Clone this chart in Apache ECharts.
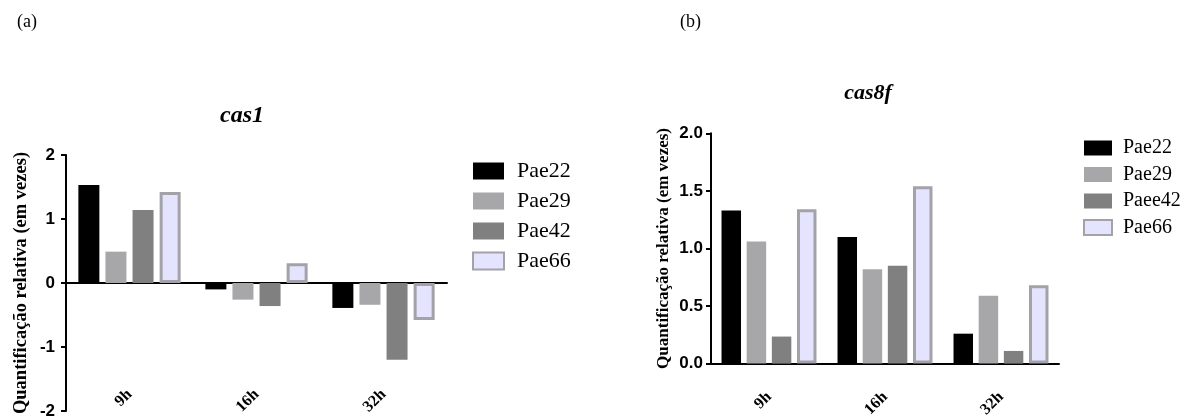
<!DOCTYPE html>
<html>
<head>
<meta charset="utf-8">
<script src="https://cdn.jsdelivr.net/npm/echarts@6/dist/echarts.min.js"></script>
<style>
html,body{margin:0;padding:0;background:#fff;}
#chart{width:1189px;height:420px;}
</style>
</head>
<body>
<div id="chart"></div>
<script>
// ---- data ----
const categories = ['9h', '16h', '32h'];

// (a) cas1
const cas1Names = ['Pae22', 'Pae29', 'Pae42', 'Pae66'];
const cas1_Pae22 = [1.53, -0.10, -0.39];
const cas1_Pae29 = [0.49, -0.26, -0.34];
const cas1_Pae42 = [1.14, -0.36, -1.20];
const cas1_Pae66 = [1.42, 0.31, -0.58];
const cas1Ticks = [-2, -1, 0, 1, 2];

// (b) cas8f
const cas8fNames = ['Pae22', 'Pae29', 'Paee42', 'Pae66'];
const cas8f_Pae22 = [1.33, 1.10, 0.26];
const cas8f_Pae29 = [1.06, 0.82, 0.59];
const cas8f_Paee42 = [0.235, 0.85, 0.11];
const cas8f_Pae66 = [1.34, 1.54, 0.68];
const cas8fTicks = ['0.0', '0.5', '1.0', '1.5', '2.0'];

const yName = 'Quantificação relativa (em vezes)';
const SERIF = "'Liberation Serif','Times New Roman',serif";
const SANS = "'Liberation Sans',Arial,sans-serif";

const styles = [
  {color: '#000000'},
  {color: '#a7a7aa'},
  {color: '#808080'},
  {color: '#e4e4ff', borderColor: '#a2a2a8', borderWidth: 3}
];

const chart = echarts.init(document.getElementById('chart'));

function mkSeries(names, arrays, xIdx, yIdx, barWidth, barGap) {
  return names.map((n, i) => ({
    type: 'bar', name: n, data: arrays[i],
    xAxisIndex: xIdx, yAxisIndex: yIdx,
    barWidth: barWidth, barGap: barGap,
    itemStyle: Object.assign({}, styles[i]),
    emphasis: {disabled: true}
  }));
}

const option = {
  backgroundColor: '#fff',
  animation: false,
  title: [
    {text: '(a)', left: 17, top: 13, padding: 0, textStyle: {fontFamily: SERIF, fontWeight: 'normal', fontSize: 18, color: '#000'}},
    {text: '(b)', left: 680, top: 13, padding: 0, textStyle: {fontFamily: SERIF, fontWeight: 'normal', fontSize: 18, color: '#000'}},
    {text: 'cas1', left: 242, top: 104, padding: 0, textAlign: 'center',
      textStyle: {fontFamily: SERIF, fontWeight: 'bold', fontStyle: 'italic', fontSize: 24, color: '#000'}},
    {text: 'cas8f', left: 868, top: 82, padding: 0, textAlign: 'center',
      textStyle: {fontFamily: SERIF, fontWeight: 'bold', fontStyle: 'italic', fontSize: 22, color: '#000'}}
  ],
  legend: [
    {data: cas1Names, orient: 'vertical', left: 472, top: 160, padding: 0,
      itemWidth: 31, itemHeight: 17, itemGap: 8, icon: 'rect', selectedMode: false,
      textStyle: {fontFamily: SERIF, fontSize: 22, color: '#000', padding: [0, 0, 0, 8]}},
    {data: cas8fNames, orient: 'vertical', left: 1083, top: 138, padding: 0,
      itemWidth: 28, itemHeight: 15, itemGap: 6.5, icon: 'rect', selectedMode: false,
      textStyle: {fontFamily: SERIF, fontSize: 20, color: '#000', padding: [0, 0, 0, 6]}}
  ],
  grid: [
    {left: 66, top: 155, width: 381, height: 256, containLabel: false},
    {left: 711, top: 133.3, width: 348, height: 233.4, containLabel: false}
  ],
  xAxis: [
    {type: 'category', data: categories, gridIndex: 0, position: 'bottom',
      axisLine: {onZero: true, lineStyle: {color: '#000', width: 2}},
      axisTick: {alignWithLabel: true, length: 7, lineStyle: {color: '#000', width: 2}},
      axisLabel: {show: false}, splitLine: {show: false}},
    {type: 'category', data: categories, gridIndex: 0, position: 'bottom',
      axisLine: {show: false, onZero: false}, axisTick: {show: false},
      axisLabel: {rotate: 45, margin: -19, fontFamily: SERIF, fontWeight: 'bold', fontSize: 16, color: '#000'},
      splitLine: {show: false}},
    {type: 'category', data: categories, gridIndex: 1, position: 'bottom',
      axisLine: {onZero: true, lineStyle: {color: '#000', width: 2}},
      axisTick: {alignWithLabel: true, length: 7, lineStyle: {color: '#000', width: 2}},
      axisLabel: {rotate: 45, margin: 31, fontFamily: SERIF, fontWeight: 'bold', fontSize: 16, color: '#000'},
      splitLine: {show: false}}
  ],
  yAxis: [
    {type: 'value', gridIndex: 0, min: cas1Ticks[0], max: cas1Ticks[cas1Ticks.length - 1], interval: 1,
      name: yName, nameLocation: 'middle', nameGap: 35, nameRotate: 90,
      nameTextStyle: {fontFamily: SERIF, fontWeight: 'bold', fontSize: 18.5, color: '#000'},
      axisLine: {show: true, lineStyle: {color: '#000', width: 2}},
      axisTick: {show: true, length: 5, lineStyle: {color: '#000', width: 2}},
      axisLabel: {fontFamily: SANS, fontWeight: 'bold', fontSize: 17, color: '#000', margin: 11},
      splitLine: {show: false}},
    {type: 'value', gridIndex: 1, min: 0, max: 2, interval: 0.5,
      name: yName, nameLocation: 'middle', nameGap: 39, nameRotate: 90,
      nameTextStyle: {fontFamily: SERIF, fontWeight: 'bold', fontSize: 17, color: '#000'},
      axisLine: {show: true, lineStyle: {color: '#000', width: 2}},
      axisTick: {show: true, length: 5, lineStyle: {color: '#000', width: 2}},
      axisLabel: {fontFamily: SANS, fontWeight: 'bold', fontSize: 17, color: '#000', margin: 8,
        formatter: v => cas8fTicks[Math.round(v / 0.5)]},
      splitLine: {show: false}}
  ],
  series: [].concat(
    mkSeries(cas1Names, [cas1_Pae22, cas1_Pae29, cas1_Pae42, cas1_Pae66], 0, 0, 21, '29%'),
    mkSeries(cas8fNames, [cas8f_Pae22, cas8f_Pae29, cas8f_Paee42, cas8f_Pae66], 2, 1, 19.5, '29%')
  )
};
chart.setOption(option);
</script>
</body>
</html>
